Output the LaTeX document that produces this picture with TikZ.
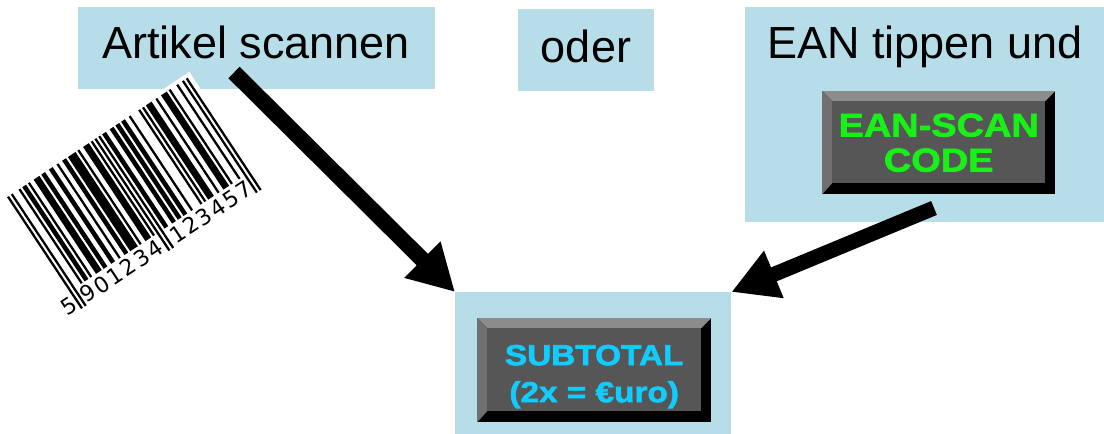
\documentclass[tikz,border=0pt]{standalone}
\usepackage{fontspec}
\setmainfont{Liberation Sans}
\newfontfamily\keyfont[FakeStretch=1.15,FakeBold=2]{Liberation Sans}
\newfontfamily\digitfont{DejaVu Sans}
\usetikzlibrary{arrows.meta}
\definecolor{panelblue}{RGB}{183,221,232}
\definecolor{keyface}{RGB}{86,86,86}
\definecolor{keytop}{RGB}{140,140,140}
\definecolor{keyleft}{RGB}{112,112,112}
\definecolor{keygreen}{RGB}{24,240,24}
\definecolor{keycyan}{RGB}{17,204,255}
\tikzset{
  panel/.style={fill=panelblue, inner sep=0pt, anchor=north west},
  keybtn/.style={fill=black, inner sep=0pt, anchor=north west, align=center,
    path picture={
      \fill[keytop] (path picture bounding box.north west)
        -- (path picture bounding box.north east)
        -- ([shift={(-10pt,-10pt)}]path picture bounding box.north east)
        -- ([shift={(10pt,-10pt)}]path picture bounding box.north west) -- cycle;
      \fill[keyleft] (path picture bounding box.north west)
        -- ([shift={(10pt,-10pt)}]path picture bounding box.north west)
        -- ([shift={(10pt,11pt)}]path picture bounding box.south west)
        -- (path picture bounding box.south west) -- cycle;
      \fill[keyface] ([shift={(10pt,-10pt)}]path picture bounding box.north west)
        rectangle ([shift={(-10pt,11pt)}]path picture bounding box.south east);
    }},
  bardigit/.style={font=\digitfont\fontsize{22}{22}\selectfont, inner sep=0pt, anchor=base},
  bigarrow/.style={line width=16pt, -{Triangle[length=46pt,width=48pt]}},
}
\begin{document}
\begin{tikzpicture}[x=1pt, y=-1pt, font=\fontsize{45}{54}\selectfont]
	\useasboundingbox[fill=white] (0,0) rectangle (1104,434);
	% blue panels
	\node[panel, minimum width=357pt, minimum height=82pt] (scanPanel) at (78,7) {};
	\node[panel, minimum width=136pt, minimum height=82pt] (orPanel) at (518,9) {};
	\node[panel, minimum width=359pt, minimum height=215pt] (eanPanel) at (745,7) {};
	\node[panel, minimum width=276pt, minimum height=142pt] (totalPanel) at (455,292) {};
	\node (scanText) at (256,58) [anchor=base] {Artikel scannen};
	\node (orText) at (586,62) [anchor=base] {oder};
	\node (eanText) at (925,58) [anchor=base] {EAN tippen und};
	% keys
	\node[keybtn, minimum width=233pt, minimum height=103pt, text=keygreen,
		font=\keyfont\bfseries\fontsize{33}{35}\selectfont] (eanKey) at (822,91) {EAN-SCAN\\CODE};
	\node[keybtn, minimum width=234pt, minimum height=104pt, text=keycyan, text height=64pt, text depth=0pt,
		font=\keyfont\bfseries\fontsize{29}{37}\selectfont] (totalKey) at (477,318) {SUBTOTAL\\(2x = €uro)};
	% barcode 5901234123457
	\begin{scope}[shift={(81,309)}, rotate=33.5, x=2.28pt, y=1pt, transform shape]
		\fill[white] (-6,-4) rectangle (97,138);
		\foreach \s/\w in {6/1, 8/2, 11/1, 14/3, 18/2, 22/2, 26/1, 29/2, 32/4, 37/1, 40/3, 44/1,
			50/2, 54/2, 57/2, 60/2, 64/1, 69/1, 71/1, 73/3, 78/1, 81/3, 85/1, 89/1}
			\fill (\s,21) rectangle ++(\w,113);
		\foreach \s in {0, 2, 46, 48, 92, 94}
			\fill (\s,0) rectangle ++(1,134);
		\node[bardigit] (firstDigit) at (-3.5,1) {5};
		\foreach \d [count=\k from 0] in {9,0,1,2,3,4}
			\node[bardigit] (leftDigit\k) at ({6.5+7*\k},1) {\d};
		\foreach \d [count=\k from 0] in {1,2,3,4,5,7}
			\node[bardigit] (rightDigit\k) at ({53.5+7*\k},1) {\d};
	\end{scope}
	% arrows
	\coordinate (scanTail) at (234,72.5);
	\coordinate (eanTail) at (934,208);
	\draw[bigarrow] (scanTail) -- (totalPanel.north west);
	\draw[bigarrow, line width=15pt] (eanTail) -- (totalPanel.north east);
\end{tikzpicture}
\end{document}
